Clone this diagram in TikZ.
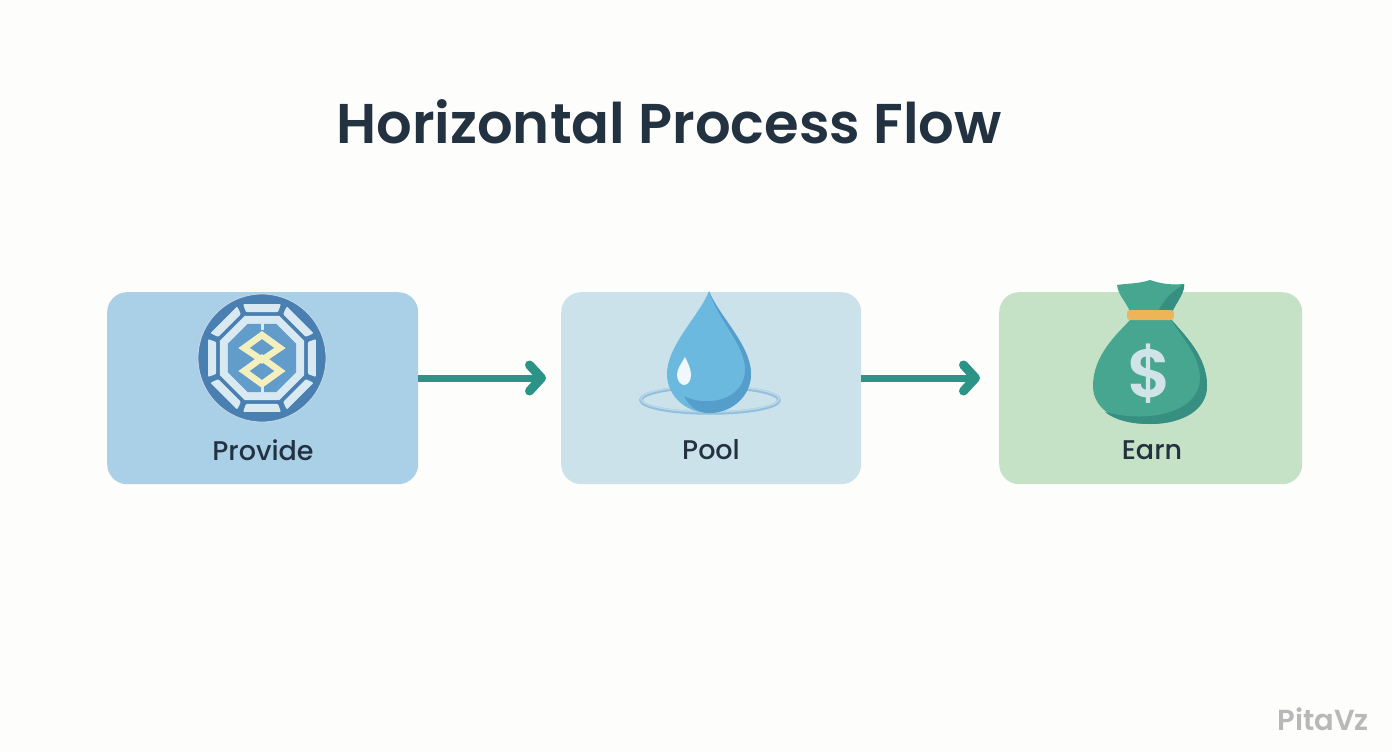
\documentclass[tikz,border=0pt]{standalone}
\usepackage{fontspec}
\setmainfont{Poppins}[BoldFont={Poppins SemiBold}]
\newfontfamily\medfont{Poppins Medium}
\usetikzlibrary{arrows.meta,calc}
\definecolor{bgc}{HTML}{FDFDFC}
\definecolor{ink}{HTML}{233240}
\definecolor{teal1}{HTML}{2B9486}
\definecolor{boxa}{HTML}{A9D0E6}
\definecolor{boxb}{HTML}{CCE2EA}
\definecolor{boxc}{HTML}{C6E2C6}
\definecolor{ringd}{HTML}{4A7FB2}
\definecolor{ringl}{HTML}{D8E9F2}
\definecolor{coreb}{HTML}{629CCB}
\definecolor{yel}{HTML}{F4F0BE}
\definecolor{drop}{HTML}{6CB9E0}
\definecolor{dropd}{HTML}{559DCB}
\definecolor{bag}{HTML}{46A690}
\definecolor{bagd}{HTML}{368F80}
\definecolor{band}{HTML}{EDB458}
\definecolor{dollar}{HTML}{CFE3E8}
\tikzset{
  x=1pt,y=-1pt,
  stage/.style={rounded corners=20pt,minimum height=192pt,inner sep=0pt,anchor=north west},
  lbl/.style={text=ink,font=\medfont\fontsize{27}{30}\selectfont,inner sep=0pt},
  flow/.style={draw=teal1,line width=7pt,-{Straight Barb[length=12pt,width=26pt,line width=9pt,round]}},
}
\begin{document}
\begin{tikzpicture}
\useasboundingbox (0,0) rectangle (1392,752);
\fill[bgc] (0,0) rectangle (1392,752);
\node[text=ink,font=\fontsize{56}{60}\selectfont\bfseries,inner sep=0pt] (title) at (669,122) {Horizontal Process Flow};
\node[stage,fill=boxa,minimum width=311pt] (provide) at (107,292) {};
\node[stage,fill=boxb,minimum width=300pt] (pool) at (561,292) {};
\node[stage,fill=boxc,minimum width=303pt] (earn) at (999,292) {};
\coordinate (a1s) at (418,378);
\coordinate (a1e) at (546,378);
\coordinate (a2s) at (861,378);
\coordinate (a2e) at (980,378);
\draw[flow] (provide.east |- a1s) -- (a1e);
\draw[flow] (pool.east |- a2s) -- (a2e);
% provide icon
\coordinate (c) at (262,358);
\fill[ringd] (c) circle[radius=64];
\draw[white!70!ringd,line width=.8pt] (c) circle[radius=64];
\foreach \a in {0,45,...,315}{
  \fill[ringl,rounded corners=1pt] ($(c)+(\a-19.3:57.2)$) -- ($(c)+(\a+19.3:57.2)$) -- ($(c)+(\a+19.3:48.7)$) -- ($(c)+(\a-19.3:48.7)$) -- cycle;
}
\fill[ringl] ($(c)+(22.5:45.5)$) -- ($(c)+(67.5:45.5)$) -- ($(c)+(112.5:45.5)$) -- ($(c)+(157.5:45.5)$) -- ($(c)+(202.5:45.5)$) -- ($(c)+(247.5:45.5)$) -- ($(c)+(292.5:45.5)$) -- ($(c)+(337.5:45.5)$) -- cycle;
\fill[coreb] ($(c)+(22.5:37)$) -- ($(c)+(67.5:37)$) -- ($(c)+(112.5:37)$) -- ($(c)+(157.5:37)$) -- ($(c)+(202.5:37)$) -- ($(c)+(247.5:37)$) -- ($(c)+(292.5:37)$) -- ($(c)+(337.5:37)$) -- cycle;
\draw[ringl,line width=3pt] (262,323) -- (262,330) (262,385) -- (262,393);
\draw[yel,line width=6.5pt,line join=miter] (262,335) -- (280,348) -- (262,360) -- (244,348) -- cycle;
\draw[yel,line width=6.5pt,line join=miter] (262,358) -- (280,371) -- (262,384) -- (244,371) -- cycle;
\node[lbl] (lprov) at (263,450) {Provide};
% pool icon
\draw[white!35!dropd,line width=3.5pt] (710,400) ellipse[x radius=69,y radius=13];
\draw[white!60!dropd,line width=1.4pt] (710,399) ellipse[x radius=69,y radius=13];
\fill[drop] (709,291) .. controls (700,315) and (667,345) .. (667,374)
  .. controls (667,397) and (687,413) .. (709,413)
  .. controls (733,413) and (751,395) .. (751,374)
  .. controls (751,345) and (718,315) .. (709,291) -- cycle;
\fill[dropd] (709,291) .. controls (718,315) and (751,345) .. (751,374)
  .. controls (751,395) and (733,413) .. (709,413)
  .. controls (697,413) and (689,406) .. (684,396)
  .. controls (704,407) and (745,402) .. (745,369)
  .. controls (745,345) and (718,320) .. (709,291) -- cycle;
\fill[white!90!drop] (685,357) .. controls (681,364) and (677,369) .. (677,375)
  .. controls (677,381) and (681,385) .. (684,385)
  .. controls (688,385) and (691,381) .. (691,375)
  .. controls (691,369) and (688,363) .. (685,357) -- cycle;
\node[lbl] (lpool) at (711,450) {Pool};
% earn icon
\fill[bag] (1117,285) .. controls (1130,283) and (1138,284) .. (1150,280)
  .. controls (1162,284) and (1170,285) .. (1184,284)
  .. controls (1185,292) and (1178,300) .. (1172,312)
  -- (1130,312) .. controls (1127,303) and (1118,295) .. (1117,285) -- cycle;
\fill[bagd] (1184,284) .. controls (1185,292) and (1178,300) .. (1172,312)
  -- (1158,312) .. controls (1163,300) and (1172,292) .. (1184,284) -- cycle;
\fill[bag] (1132,318) .. controls (1117,334) and (1093,355) .. (1093,386)
  .. controls (1093,410) and (1118,424) .. (1150,424)
  .. controls (1182,424) and (1207,410) .. (1207,386)
  .. controls (1207,355) and (1183,334) .. (1170,318) -- cycle;
\fill[bagd] (1170,318) .. controls (1183,334) and (1207,355) .. (1207,386)
  .. controls (1207,410) and (1182,424) .. (1150,424)
  .. controls (1130,424) and (1115,420) .. (1105,412)
  .. controls (1150,424) and (1200,412) .. (1200,378)
  .. controls (1200,355) and (1180,335) .. (1170,318) -- cycle;
\fill[band,rounded corners=3pt] (1127,310) rectangle (1174,320);
\node[text=dollar,font=\fontsize{68}{70}\selectfont\bfseries,inner sep=0pt] (dollar) at (1150,374) {\$};
\node[lbl] (learn) at (1152,450) {Earn};
% watermark
\node[text=black!28,font=\fontsize{29}{30}\selectfont\bfseries,inner sep=0pt] (wm) at (1323,719) {PitaVz};
\end{tikzpicture}
\end{document}
